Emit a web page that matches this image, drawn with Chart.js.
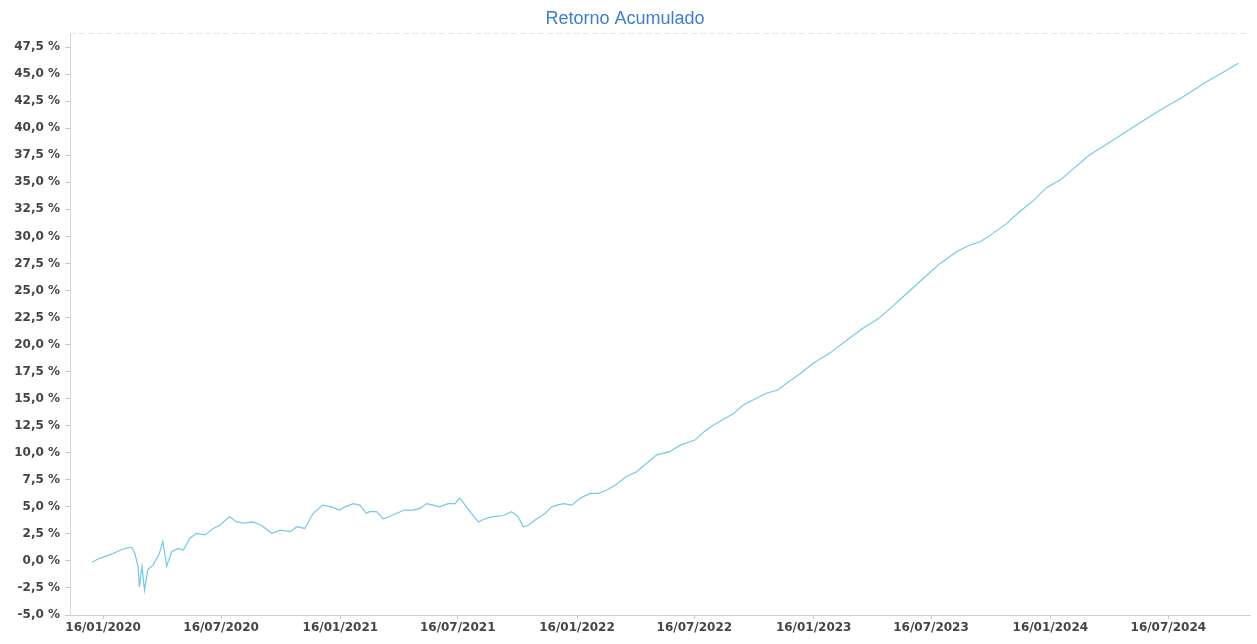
<!DOCTYPE html>
<html>
<head>
<meta charset="utf-8">
<title>Retorno Acumulado</title>
<script src="https://cdn.jsdelivr.net/npm/chart.js@4.4.1/dist/chart.umd.min.js"></script>
<style>
  body { margin: 0; background: #fff; }
  #wrap { width: 1257px; height: 644px; }
</style>
</head>
<body>
<div id="wrap"><canvas id="myChart"></canvas></div>
<script>
// datos
const fechas = [
  "30/12/2019","11/01/2020","01/02/2020","16/02/2020","29/02/2020","05/03/2020","10/03/2020","12/03/2020",
  "16/03/2020","20/03/2020","25/03/2020","02/04/2020","12/04/2020","17/04/2020","21/04/2020","23/04/2020",
  "01/05/2020","11/05/2020","19/05/2020","29/05/2020","08/06/2020","21/06/2020","04/07/2020","14/07/2020",
  "29/07/2020","09/08/2020","19/08/2020","03/09/2020","16/09/2020","02/10/2020","15/10/2020","31/10/2020",
  "10/11/2020","22/11/2020","05/12/2020","20/12/2020","02/01/2021","15/01/2021","23/01/2021","05/02/2021",
  "15/02/2021","25/02/2021","02/03/2021","13/03/2021","23/03/2021","02/04/2021","13/04/2021","25/04/2021",
  "08/05/2021","19/05/2021","29/05/2021","08/06/2021","18/06/2021","01/07/2021","12/07/2021","19/07/2021",
  "27/07/2021","06/08/2021","17/08/2021","27/08/2021","09/09/2021","24/09/2021","07/10/2021","17/10/2021",
  "25/10/2021","02/11/2021","15/11/2021","28/11/2021","08/12/2021","16/12/2021","26/12/2021","08/01/2022",
  "21/01/2022","05/02/2022","18/02/2022","03/03/2022","16/03/2022","02/04/2022","18/04/2022","03/05/2022",
  "19/05/2022","08/06/2022","24/06/2022","17/07/2022","30/07/2022","14/08/2022","27/08/2022","14/09/2022",
  "29/09/2022","15/10/2022","04/11/2022","22/11/2022","08/12/2022","26/12/2022","15/01/2023","12/02/2023",
  "08/03/2023","02/04/2023","26/04/2023","19/05/2023","08/06/2023","04/07/2023","30/07/2023","25/08/2023",
  "14/09/2023","30/09/2023","20/10/2023","10/11/2023","30/11/2023","21/12/2023","10/01/2024","31/01/2024",
  "16/03/2024","22/04/2024","28/05/2024","03/07/2024","08/08/2024","13/09/2024","14/10/2024","01/11/2024"
];
const retorno = [
  -0.1, 0.24, 0.7, 1.1, 1.26, 0.7, -0.53, -2.4,
  -0.5, -2.7, -0.8, -0.4, 0.7, 1.8, 0.4, -0.5,
  0.85, 1.16, 1.0, 2.1, 2.55, 2.4, 3.0, 3.3,
  4.1, 3.6, 3.5, 3.6, 3.3, 2.55, 2.85, 2.7,
  3.16, 3.0, 4.4, 5.16, 5.0, 4.7, 5.0, 5.3,
  5.16, 4.4, 4.55, 4.55, 3.9, 4.1, 4.4, 4.7,
  4.7, 4.86, 5.3, 5.16, 5.0, 5.3, 5.3, 5.8,
  5.2, 4.4, 3.6, 3.9, 4.1, 4.2, 4.55, 4.1,
  3.16, 3.3, 3.9, 4.4, 5.0, 5.16, 5.3, 5.16,
  5.8, 6.24, 6.24, 6.55, 7.0, 7.8, 8.24, 9.0,
  9.8, 10.1, 10.7, 11.17, 11.9, 12.55, 13.0, 13.6,
  14.4, 14.9, 15.5, 15.8, 16.55, 17.3, 18.25, 19.3,
  20.4, 21.5, 22.4, 23.6, 24.7, 26.1, 27.5, 28.6,
  29.2, 29.5, 30.3, 31.2, 32.3, 33.3, 34.5, 35.2,
  37.5, 38.9, 40.3, 41.65, 42.9, 44.3, 45.35, 46.0
];
const ticksX = ["16/01/2020","16/07/2020","16/01/2021","16/07/2021","16/01/2022","16/07/2022","16/01/2023","16/07/2023","16/01/2024","16/07/2024"];
const ticksY = [-5,-2.5,0,2.5,5,7.5,10,12.5,15,17.5,20,22.5,25,27.5,30,32.5,35,37.5,40,42.5,45,47.5];

function aFecha(s){
  const p = s.split("/");
  return Date.UTC(+p[2], +p[1]-1, +p[0]);
}
function dosDig(n){ return (n < 10 ? "0" : "") + n; }
function fmtFecha(ms){
  const d = new Date(ms);
  return dosDig(d.getUTCDate()) + "/" + dosDig(d.getUTCMonth()+1) + "/" + d.getUTCFullYear();
}

const puntos = fechas.map(function(f, i){ return {x: aFecha(f), y: retorno[i]}; });

const fuente = {family: "'DejaVu Sans', Verdana, sans-serif", size: 12, weight: 'bold'};

// linea punteada arriba del area
const bordeArriba = {
  id: 'bordeArriba',
  beforeDatasetsDraw: function(c){
    const a = c.chartArea;
    const g = c.ctx;
    g.save();
    g.strokeStyle = '#e6e6e6';
    g.lineWidth = 1;
    g.setLineDash([6, 3]);
    g.beginPath();
    g.moveTo(a.left, a.top + 0.5);
    g.lineTo(a.right, a.top + 0.5);
    g.stroke();
    g.restore();
  }
};

const ctx = document.getElementById('myChart').getContext('2d');
const chart = new Chart(ctx, {
  type: 'line',
  data: {
    datasets: [{
      label: 'Retorno Acumulado',
      data: puntos,
      borderColor: '#74c9e7',
      borderWidth: 1.2,
      pointRadius: 0,
      tension: 0,
      fill: false
    }]
  },
  options: {
    responsive: true,
    maintainAspectRatio: false,
    animation: false,
    layout: {padding: {left: 0, right: 7, top: 0, bottom: 0}},
    plugins: {
      legend: {display: false},
      tooltip: {enabled: false},
      title: {
        display: true,
        text: 'Retorno Acumulado',
        color: '#3f7fc6',
        font: {family: "Arial, 'Liberation Sans', sans-serif", size: 18, weight: 'normal'},
        padding: {top: 8, bottom: 3.4}
      }
    },
    scales: {
      x: {
        type: 'linear',
        min: aFecha("26/11/2019"),
        max: aFecha("19/11/2024"),
        afterBuildTicks: function(scale){
          scale.ticks = ticksX.map(function(t){ return {value: aFecha(t)}; });
        },
        afterFit: function(scale){ scale.height = 29; },
        grid: {drawOnChartArea: false, tickLength: 4, color: '#c8c8c8'},
        border: {color: '#cfcfcf'},
        ticks: {
          color: '#454545',
          font: fuente,
          maxRotation: 0,
          autoSkip: false,
          padding: 2,
          callback: function(v){ return fmtFecha(v); }
        }
      },
      y: {
        min: -5,
        max: 48.8,
        afterBuildTicks: function(scale){
          scale.ticks = ticksY.map(function(t){ return {value: t}; });
        },
        afterFit: function(scale){ scale.width = 70; },
        grid: {drawOnChartArea: false, tickLength: 5, color: '#c8c8c8'},
        border: {color: '#d6d6d6'},
        ticks: {
          color: '#454545',
          font: fuente,
          padding: 5,
          callback: function(v){ return v.toFixed(1).replace('.', ',') + ' %'; }
        }
      }
    }
  },
  plugins: [bordeArriba]
});
</script>
</body>
</html>
